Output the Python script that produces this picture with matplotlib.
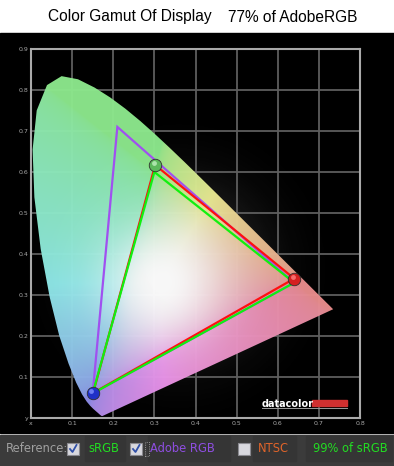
import matplotlib
matplotlib.use('Agg')
import matplotlib.pyplot as plt
import numpy as np
from matplotlib.patches import Polygon, Rectangle
from matplotlib.lines import Line2D

# CIE 1931 spectral locus (x, y), 380-700 nm
locus_x = [0.1741, 0.1740, 0.1738, 0.1736, 0.1733, 0.1730, 0.1726, 0.1721, 0.1714, 0.1703,
           0.1689, 0.1669, 0.1644, 0.1611, 0.1566, 0.1510, 0.1440, 0.1355, 0.1241, 0.1096,
           0.0913, 0.0687, 0.0454, 0.0235, 0.0082, 0.0039, 0.0139, 0.0389, 0.0743, 0.1142,
           0.1547, 0.1929, 0.2296, 0.2658, 0.3016, 0.3373, 0.3731, 0.4087, 0.4441, 0.4788,
           0.5125, 0.5448, 0.5752, 0.6029, 0.6270, 0.6482, 0.6658, 0.6801, 0.6915, 0.7006,
           0.7079, 0.7140, 0.7190, 0.7230, 0.7260, 0.7283, 0.7300, 0.7311, 0.7320, 0.7334,
           0.7344, 0.7347]
locus_y = [0.0050, 0.0050, 0.0049, 0.0049, 0.0048, 0.0048, 0.0048, 0.0048, 0.0051, 0.0058,
           0.0069, 0.0086, 0.0109, 0.0138, 0.0177, 0.0227, 0.0297, 0.0399, 0.0578, 0.0868,
           0.1327, 0.2007, 0.2950, 0.4127, 0.5384, 0.6548, 0.7502, 0.8120, 0.8338, 0.8262,
           0.8059, 0.7816, 0.7543, 0.7243, 0.6923, 0.6589, 0.6245, 0.5896, 0.5547, 0.5202,
           0.4866, 0.4544, 0.4242, 0.3965, 0.3725, 0.3514, 0.3340, 0.3197, 0.3083, 0.2993,
           0.2920, 0.2859, 0.2809, 0.2770, 0.2740, 0.2717, 0.2700, 0.2689, 0.2680, 0.2666,
           0.2656, 0.2653]

# primaries: red, green, blue
srgb_x = [0.64, 0.30, 0.15]
srgb_y = [0.33, 0.60, 0.06]
adobe_x = [0.64, 0.21, 0.15]
adobe_y = [0.33, 0.71, 0.06]
meas_x = [0.640, 0.302, 0.151]
meas_y = [0.340, 0.617, 0.061]

xtick_labels = ['x', '0.1', '0.2', '0.3', '0.4', '0.5', '0.6', '0.7', '0.8']
ytick_labels = ['y', '0.1', '0.2', '0.3', '0.4', '0.5', '0.6', '0.7', '0.8', '0.9']

W, H = 394, 466
fig = plt.figure(figsize=(W / 100, H / 100), dpi=100, facecolor='white')


def fx(px):
    return px / W


def fy(py):
    return 1 - py / H


# background blocks
fig.patches.append(Rectangle((0, fy(433)), 1, fy(33) - fy(433), transform=fig.transFigure,
                             color='black', zorder=-2))
fig.patches.append(Rectangle((0, 0), 1, fy(435), transform=fig.transFigure,
                             color='#3b3b3b', zorder=-2))

ax = fig.add_axes([fx(31), fy(418), fx(360) - fx(31), fy(49) - fy(418)])
ax.set_zorder(1)
ax.set_facecolor('black')
ax.set_xlim(0, 0.8)
ax.set_ylim(0, 0.9)

# soft glow behind the horseshoe
gx, gy = np.meshgrid(np.linspace(0, 0.8, 200), np.linspace(0, 0.9, 220))
d2 = (gx - 0.36) ** 2 + (gy - 0.36) ** 2
glow = np.zeros(gx.shape + (4,))
glow[..., :3] = 0.85
glow[..., 3] = 0.3 * np.exp(-d2 / 0.035)
ax.imshow(glow, extent=(0, 0.8, 0, 0.9), origin='lower', aspect='auto', zorder=0.5)

# grid
for v in np.arange(0.1, 0.8, 0.1):
    ax.axvline(v, color='#5e5e5e', lw=1.3, zorder=1)
for v in np.arange(0.1, 0.9, 0.1):
    ax.axhline(v, color='#5e5e5e', lw=1.3, zorder=1)

# chromaticity fill (pastel)
n = 500
xs, ys = np.meshgrid(np.linspace(0.001, 0.8, n), np.linspace(0.001, 0.9, n))
X = xs / ys
Y = np.ones_like(xs)
Z = (1 - xs - ys) / ys
r = 3.2406 * X - 1.5372 * Y - 0.4986 * Z
g = -0.9689 * X + 1.8758 * Y + 0.0415 * Z
b = 0.0557 * X - 0.2040 * Y + 1.0570 * Z
rgb = np.clip(np.dstack([r, g, b]), 0, None)
rgb = rgb / rgb.max(axis=2, keepdims=True)
rgb = rgb ** (1 / 2.2)
rgb = rgb * 0.36 + 0.55
w = np.exp(-((xs - 0.32) ** 2 + (ys - 0.33) ** 2) / 0.02)[..., None]
rgb = np.clip(rgb * (1 - w) + w, 0, 1)
img = ax.imshow(rgb, extent=(0.001, 0.8, 0.001, 0.9), origin='lower', aspect='auto',
                zorder=2, alpha=0.97)
horse = Polygon(np.column_stack([locus_x, locus_y]), closed=True, transform=ax.transData)
img.set_clip_path(horse)

# triangles
ax.fill(adobe_x, adobe_y, fill=False, ec='#a050f0', lw=1.6, zorder=3)
ax.fill(meas_x, meas_y, fill=False, ec='#ff1010', lw=1.6, zorder=4)
ax.fill(srgb_x, srgb_y, fill=False, ec='#10f010', lw=1.6, zorder=5)

# glossy markers
for (px, py, c, hl) in zip(meas_x, meas_y, ['#d42020', '#5cb85c', '#2030c8'],
                           ['#ff8080', '#c0f0c0', '#8090ff']):
    ax.plot(px, py, 'o', ms=9, mfc=c, mec='#303030', mew=0.6, zorder=6)
    ax.plot(px - 0.004, py + 0.005, 'o', ms=3.5, mfc=hl, mec='none', alpha=0.8, zorder=7)

ax.set_xticks(np.arange(0, 0.81, 0.1), xtick_labels)
ax.set_yticks(np.arange(0, 0.91, 0.1), ytick_labels)
ax.tick_params(length=0, labelsize=4.5, labelcolor='#a8a8a8', pad=2)
for s in ax.spines.values():
    s.set_color('#aaaaaa')
    s.set_linewidth(1.5)
    s.set_zorder(8)

# datacolor logo
fig.text(fx(262), fy(404), 'datacolor', color='white', fontsize=7, fontweight='bold',
         va='center', ha='left', family='DejaVu Sans', zorder=5)
fig.patches.append(Rectangle((fx(312), fy(406)), fx(35), fy(400) - fy(406),
                             transform=fig.transFigure, color='#d03030', zorder=5))
fig.lines.append(Line2D([fx(262), fx(347)], [fy(408), fy(408)], transform=fig.transFigure,
                        color='#9a9a9a', lw=0.7, zorder=5))

# title
fig.text(fx(48), fy(17), 'Color Gamut Of Display', fontsize=11.2, family='Liberation Sans',
         va='center', ha='left', color='black')
fig.text(fx(228), fy(17), '77% of AdobeRGB', fontsize=11.2, family='Liberation Sans',
         va='center', ha='left', color='black')

# bottom bar
for (x0, x1) in [(85, 125), (148, 230), (253, 296), (306, 392)]:
    fig.patches.append(Rectangle((fx(x0), fy(461)), fx(x1 - x0), fy(436) - fy(461),
                                 transform=fig.transFigure, color='#353535', zorder=-1))
yb = 449
fs = 8.3
fig.text(fx(6), fy(yb), 'Reference:', color='#a0a0a0', fontsize=fs, va='center',
         family='DejaVu Sans')
for cx, checked in [(67, True), (130, True), (238, False)]:
    fig.patches.append(Rectangle((fx(cx), fy(yb + 6)), fx(12), fy(yb - 6) - fy(yb + 6),
                                 transform=fig.transFigure, fc='#d8d8de', ec='#8a8a90',
                                 lw=0.8, zorder=3))
    if checked:
        fig.lines.append(Line2D([fx(cx + 3), fx(cx + 5.5), fx(cx + 9.5)],
                                [fy(yb), fy(yb + 3), fy(yb - 4)], transform=fig.transFigure,
                                color='#3050a8', lw=1.3, zorder=4))
fig.patches.append(Rectangle((fx(145), fy(yb + 7)), fx(4), fy(yb - 7) - fy(yb + 7),
                             transform=fig.transFigure, fill=False, ec='#b0b0b0',
                             lw=0.6, ls=':', zorder=3))
fig.text(fx(88), fy(yb), 'sRGB', color='#22dd22', fontsize=fs, va='center',
         family='DejaVu Sans')
fig.text(fx(150), fy(yb), 'Adobe RGB', color='#8e4ee0', fontsize=fs, va='center',
         family='DejaVu Sans')
fig.text(fx(258), fy(yb), 'NTSC', color='#e0642a', fontsize=fs, va='center',
         family='DejaVu Sans')
fig.text(fx(313), fy(yb), '99% of sRGB', color='#22dd22', fontsize=fs, va='center',
         family='DejaVu Sans')

fig.savefig('out.png', dpi=100, facecolor='white')
